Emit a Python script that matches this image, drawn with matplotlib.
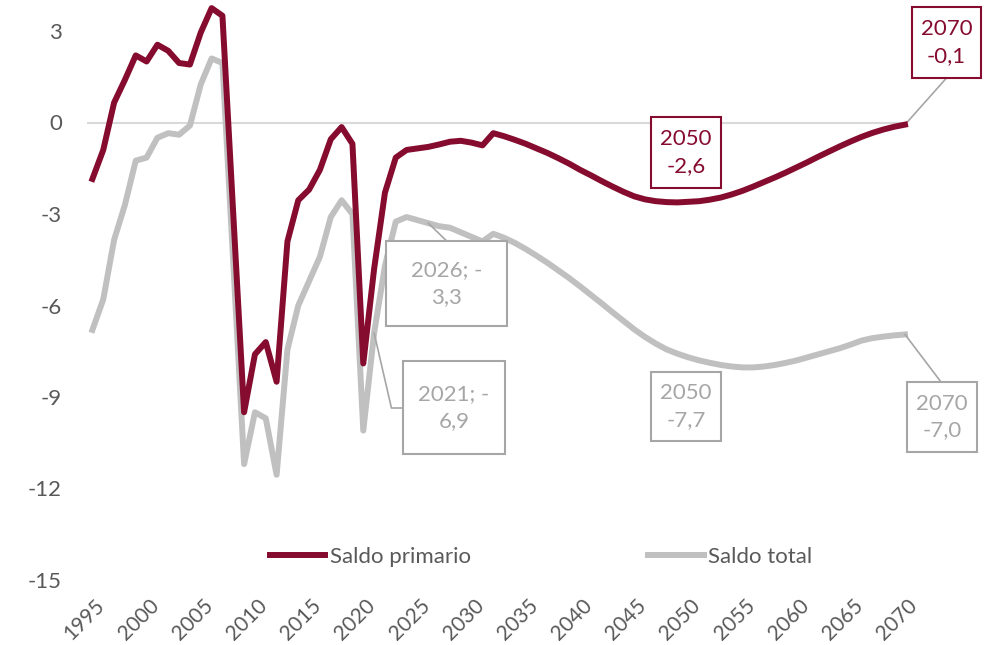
import matplotlib
matplotlib.use("Agg")
import matplotlib.pyplot as plt
from matplotlib.patches import Rectangle
from matplotlib.lines import Line2D
from matplotlib.transforms import ScaledTranslation

plt.rcParams['font.family'] = ['Lato', 'DejaVu Sans']

years = list(range(1995, 2071))
saldo_primario = [
    -1.85, -0.9, 0.65, 1.4, 2.2, 2.0, 2.55, 2.35, 1.95, 1.9,
    2.95, 3.75, 3.5, -3.0, -9.5, -7.6, -7.2, -8.5, -3.9, -2.55,
    -2.2, -1.55, -0.55, -0.15, -0.7, -7.9, -4.8, -2.3, -1.15, -0.9,
    -0.85, -0.8, -0.72, -0.63, -0.6, -0.66, -0.75, -0.35, -0.45, -0.57,
    -0.7, -0.85, -1.0, -1.17, -1.35, -1.55, -1.73, -1.92, -2.1, -2.27,
    -2.42, -2.52, -2.58, -2.61, -2.62, -2.6, -2.58, -2.53, -2.46, -2.36,
    -2.24, -2.1, -1.95, -1.8, -1.64, -1.47, -1.3, -1.12, -0.95, -0.78,
    -0.62, -0.47, -0.34, -0.23, -0.14, -0.07]
saldo_total = [
    -6.8, -5.8, -3.85, -2.7, -1.25, -1.15, -0.5, -0.35, -0.4, -0.1,
    1.25, 2.1, 1.95, -4.6, -11.2, -9.5, -9.7, -11.55, -7.45, -6.0,
    -5.2, -4.4, -3.1, -2.55, -3.0, -10.1, -6.9, -4.7, -3.25, -3.1,
    -3.2, -3.3, -3.4, -3.45, -3.6, -3.75, -3.9, -3.65, -3.78, -3.95,
    -4.15, -4.37, -4.6, -4.85, -5.1, -5.37, -5.65, -5.93, -6.22, -6.5,
    -6.78, -7.03, -7.25, -7.44, -7.58, -7.7, -7.8, -7.88, -7.95, -8.0,
    -8.03, -8.03, -8.0, -7.95, -7.88, -7.8, -7.7, -7.6, -7.5, -7.4,
    -7.28, -7.15, -7.07, -7.02, -6.98, -6.95]
x_ticks = list(range(1995, 2071, 5))
y_ticks = [-15, -12, -9, -6, -3, 0, 3]
series_names = ['Saldo primario', 'Saldo total']

RED = '#850C2E'
GRAY = '#C0C0C0'
BOXGRAY = '#A6A6A6'
TXT = '#595959'
FS = 16

W, H = 989, 645
fig = plt.figure(figsize=(W / 100, H / 100), dpi=100)
ax = fig.add_axes([87 / W, (H - 580) / H, (905 - 87) / W, (580 - 31) / H])
ax.set_xlim(1994.5, 2070)
ax.set_ylim(-15, 3)
for s in ax.spines.values():
    s.set_visible(False)
ax.axhline(0, color='#D9D9D9', lw=1.5, zorder=1)

ax.plot(years, saldo_total, color=GRAY, lw=4.3, solid_joinstyle='round',
        clip_on=False, zorder=3)
ax.plot(years, saldo_primario, color=RED, lw=4.3, solid_joinstyle='round',
        clip_on=False, zorder=4)

ax.set_yticks(y_ticks)
ax.set_yticklabels([str(v) for v in y_ticks])
ax.set_xticks(x_ticks)
ax.set_xticklabels([str(v) for v in x_ticks], rotation=45, ha='center', va='top')
ax.tick_params(axis='y', length=0, pad=18, labelsize=FS, labelcolor=TXT)
ax.tick_params(axis='x', length=0, pad=11, labelsize=FS - 1, labelcolor=TXT)
shift = ScaledTranslation(-8 / 100, 0, fig.dpi_scale_trans)
for lab in ax.get_xticklabels():
    lab.set_transform(lab.get_transform() + shift)

handles = [Line2D([], [], color=RED, lw=4.3), Line2D([], [], color=GRAY, lw=4.3)]
fig.legend(handles, series_names, loc='center', bbox_to_anchor=(541 / W, 1 - 557 / H),
           ncol=2, frameon=False, handlelength=2.5, columnspacing=8.0,
           handletextpad=0.2, fontsize=FS, labelcolor=TXT)


def fx(px):
    return px / W


def fy(py):
    return 1 - py / H


def box(x0, y0, x1, y1, text, color, edge):
    fig.patches.append(Rectangle((fx(x0), fy(y1)), (x1 - x0) / W, (y1 - y0) / H,
                                 transform=fig.transFigure, facecolor='white',
                                 edgecolor=edge, lw=1.5, zorder=5))
    fig.text(fx((x0 + x1) / 2), fy((y0 + y1) / 2), text, ha='center', va='center',
             color=color, fontsize=FS, linespacing=1.4, zorder=6)


def leader(year, value, px, py, color, conn='arc3'):
    ax.annotate('', xy=(year, value), xycoords='data', xytext=(fx(px), fy(py)),
                textcoords='figure fraction',
                arrowprops=dict(arrowstyle='-', color=color, lw=1.2, shrinkA=0,
                                shrinkB=0, connectionstyle=conn))


i = years.index
leader(2070, saldo_primario[i(2070)], 946.5, 78, BOXGRAY)
leader(2026, saldo_total[i(2026)], 446.7, 241, BOXGRAY)
leader(2021, saldo_total[i(2021)], 403, 408, BOXGRAY, conn='angle,angleA=0,angleB=-77')
leader(2070, saldo_total[i(2070)], 941, 382, BOXGRAY)

box(651, 117, 721, 188, '2050\n-2,6', RED, RED)
box(912, 7, 981, 78, '2070\n-0,1', RED, RED)
box(386, 241, 507, 326, '2026; -\n3,3', BOXGRAY, BOXGRAY)
box(403, 361, 505, 454, '2021; -\n6,9', BOXGRAY, BOXGRAY)
box(651, 372, 721, 441, '2050\n-7,7', BOXGRAY, BOXGRAY)
box(907, 382, 977, 452, '2070\n-7,0', BOXGRAY, BOXGRAY)

fig.savefig('out.png', dpi=100)
